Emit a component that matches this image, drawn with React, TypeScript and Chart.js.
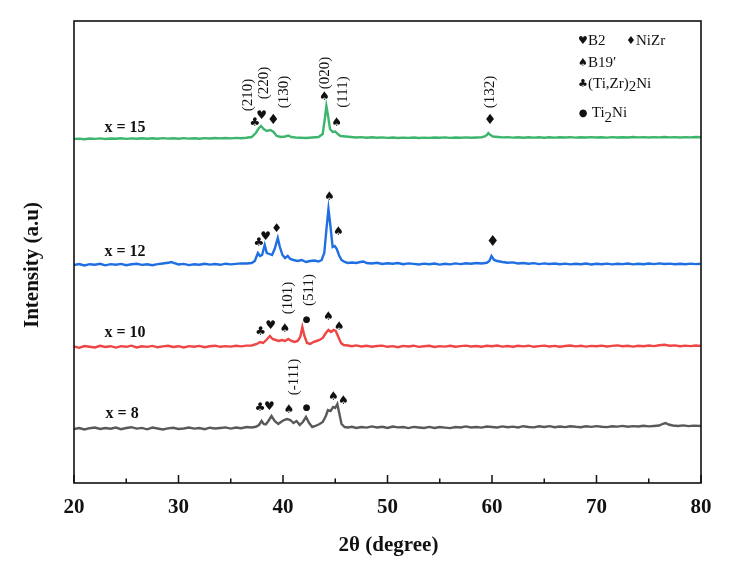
import React, { useEffect, useRef } from "react";
import { Chart, registerables } from "chart.js";

Chart.register(...registerables);

// 2θ (degree) ticks
const xTicks = [20, 30, 40, 50, 60, 70, 80];

// series names (composition x) and vertical stacking offsets (a.u.)
const seriesNames = ["x = 8", "x = 10", "x = 12", "x = 15"];
const seriesOffsets = [54, 136, 218, 344];
const seriesColors = ["#595959", "#ef4545", "#1f6fe3", "#3db56c"];

// [2θ, relative intensity]
const patternX8: number[][] = [
  [20, 0], [20.5, 1], [21, -0.5], [21.5, 0.8], [22, 1.5], [22.5, 0], [23, 1], [23.5, 0.3], [24, 1.4], [24.5, -0.2],
  [25, 1], [25.5, 1.8], [26, 0.4], [26.5, 1.1], [27, -0.3], [27.5, 1.5], [28, 0.5], [28.5, -0.5], [29, 0.6], [29.5, 1.2],
  [30, 0], [30.5, 0.5], [31, 1.5], [31.5, 0.4], [32, 1], [32.5, -0.2], [33, 1.3], [33.5, 0.5], [34, 1], [34.5, 1.6],
  [35, 0.4], [35.5, 1.5], [36, 0.8], [36.5, 2], [37, 1.5], [37.4, 2.2], [37.7, 4], [37.95, 8], [38.15, 5], [38.35, 4.5],
  [38.6, 8], [38.9, 13], [39.2, 8], [39.55, 5], [39.8, 7], [40.1, 9], [40.4, 10], [40.7, 9], [41.0, 6], [41.3, 8],
  [41.6, 4], [41.9, 7], [42.2, 12], [42.5, 6], [42.8, 2], [43.1, 3], [43.5, 5], [43.8, 7], [44.1, 13], [44.3, 19],
  [44.55, 18], [44.8, 22], [45.0, 21], [45.2, 25], [45.4, 15], [45.6, 5], [45.9, 2], [46.2, 1.5], [46.6, 2.2], [47, 1],
  [47.5, 2], [48, 1.4], [48.5, 2.6], [49, 1.5], [49.5, 2.2], [50, 1], [50.5, 2.5], [51, 1.6], [51.5, 2], [52, 0.9],
  [52.5, 2.1], [53, 1.5], [53.5, 1], [54, 2.1], [54.5, 1], [55, 2], [55.5, 1.4], [56, 0.9], [56.5, 2], [57, 1.5],
  [57.5, 2.6], [58, 1.5], [58.5, 2], [59, 1.4], [59.5, 2.5], [60, 2], [60.5, 1.5], [61, 2.6], [61.5, 1.8], [62, 2.4],
  [62.5, 1.5], [63, 2.8], [63.5, 2], [64, 1.6], [64.5, 2.7], [65, 2], [65.5, 2.9], [66, 1.8], [66.5, 2.5], [67, 1.9],
  [67.5, 2.8], [68, 2.2], [68.5, 1.8], [69, 2.7], [69.5, 2.1], [70, 2.9], [70.5, 2.3], [71, 1.9], [71.5, 2.8], [72, 2.4],
  [72.5, 3.1], [73, 2.2], [73.5, 2.9], [74, 2.5], [74.5, 3.2], [75, 2.6], [75.5, 3], [76, 3.5], [76.3, 5], [76.6, 6],
  [76.9, 4.5], [77.3, 3.5], [77.8, 3], [78.3, 3.6], [78.8, 2.9], [79.3, 3.4], [80, 3],
];

const patternX10: number[][] = [
  [20, 0.5], [20.5, -0.8], [21, 1], [21.5, 0.2], [22, -0.5], [22.5, 1.2], [23, 0], [23.5, 0.8], [24, -0.6], [24.5, 0.9],
  [25, 0.2], [25.5, 1.3], [26, -0.4], [26.5, 0.7], [27, 0.1], [27.5, 1.1], [28, -0.3], [28.5, 0.6], [29, 1.2], [29.5, 0],
  [30, 0.8], [30.5, -0.5], [31, 0.9], [31.5, 0.3], [32, 1.1], [32.5, -0.2], [33, 0.7], [33.5, 1.3], [34, 0.2], [34.5, 0.9],
  [35, 0.4], [35.5, 1.2], [36, 0.6], [36.5, 1.4], [37, 1.5], [37.5, 3], [37.8, 5], [38.1, 4], [38.4, 7], [38.75, 11],
  [39.0, 8], [39.3, 7], [39.6, 6], [39.9, 7], [40.2, 6], [40.5, 8], [40.8, 6], [41.1, 5], [41.4, 6], [41.65, 10],
  [41.85, 20], [42.05, 11], [42.3, 4], [42.6, 3], [42.9, 5], [43.2, 6], [43.5, 7], [43.8, 9], [44.1, 14], [44.35, 17],
  [44.6, 15], [44.85, 17], [45.05, 16], [45.3, 10], [45.55, 4], [45.8, 2], [46.2, 1.5], [46.6, 0.8], [47, 1.6], [47.5, 0.5],
  [48, 1.2], [48.5, 0.3], [49, 1], [49.5, 1.4], [50, 0.2], [50.5, 0.9], [51, -0.2], [51.5, 1.1], [52, 0.5], [52.5, 1.3],
  [53, 0.1], [53.5, 0.8], [54, 1.2], [54.5, 0], [55, 0.9], [55.5, 0.4], [56, 1.2], [56.5, 0.2], [57, 0.9], [57.5, 1.4],
  [58, 0.5], [58.5, 1], [59, 0.3], [59.5, 1.2], [60, 0.8], [60.5, 1.5], [61, 0.4], [61.5, 1], [62, 0.2], [62.5, 1.2],
  [63, 0.6], [63.5, 1.3], [64, 0.2], [64.5, 0.9], [65, 1.4], [65.5, 0.5], [66, 1.1], [66.5, 0.3], [67, 1], [67.5, 1.5],
  [68, 0.6], [68.5, 1.2], [69, 0.4], [69.5, 1.1], [70, 0.7], [70.5, 1.4], [71, 0.5], [71.5, 1.1], [72, 1.6], [72.5, 0.7],
  [73, 1.2], [73.5, 0.4], [74, 1.3], [74.5, 0.8], [75, 1.5], [75.5, 0.9], [76, 1.8], [76.5, 2.2], [77, 1.2], [77.5, 1.6],
  [78, 0.8], [78.5, 1.4], [79, 0.9], [79.5, 1.5], [80, 1],
];

const patternX12: number[][] = [
  [20, 0], [20.5, 1], [21, -0.5], [21.5, 0.8], [22, 0.2], [22.5, 1.2], [23, -0.3], [23.5, 0.9], [24, 0.3], [24.5, 1.1],
  [25, -0.2], [25.5, 0.7], [26, 1.2], [26.5, 0.1], [27, 0.8], [27.5, -0.2], [28, 0.9], [28.5, 1.5], [29, 2.2], [29.3, 3],
  [29.6, 1.8], [30, 0.5], [30.5, 1.1], [31, -0.1], [31.5, 0.8], [32, 0.3], [32.5, 1.2], [33, 0.4], [33.5, 1], [34, 0.2],
  [34.5, 1.3], [35, 0.6], [35.5, 1.1], [36, 1.6], [36.5, 1.5], [37, 2], [37.3, 4], [37.6, 12], [37.8, 9], [38.0, 10],
  [38.25, 20], [38.45, 12], [38.7, 11], [38.95, 10], [39.2, 16], [39.5, 27], [39.7, 18], [39.95, 10], [40.2, 7], [40.45, 9],
  [40.7, 6], [41, 5], [41.4, 4], [41.8, 5], [42.2, 3], [42.6, 4], [43, 4.5], [43.4, 3.5], [43.7, 5], [43.95, 12],
  [44.15, 35], [44.35, 56], [44.55, 38], [44.75, 18], [44.95, 19], [45.15, 16], [45.35, 10], [45.6, 5], [45.9, 3], [46.2, 2],
  [46.6, 2.5], [47, 2], [47.4, 3], [47.7, 3.5], [48, 2], [48.5, 1.5], [49, 2.2], [49.5, 1], [50, 1.8], [50.5, 1.2],
  [51, 2], [51.5, 0.8], [52, 1.6], [52.5, 1.1], [53, 0.5], [53.5, 1.4], [54, 0.7], [54.5, 1.5], [55, 0.4], [55.5, 1.2],
  [56, 0.6], [56.5, 1.6], [57, 0.9], [57.5, 1.8], [58, 1.2], [58.5, 2], [59, 1.5], [59.5, 2.2], [59.75, 4], [59.95, 9],
  [60.2, 5], [60.5, 4], [61, 3], [61.5, 2.2], [62, 2.6], [62.5, 1.5], [63, 2], [63.5, 1.2], [64, 1.9], [64.5, 0.9],
  [65, 1.6], [65.5, 1], [66, 1.5], [66.5, 0.7], [67, 1.4], [67.5, 0.6], [68, 1.3], [68.5, 0.8], [69, 1.5], [69.5, 0.5],
  [70, 1.2], [70.5, 0.7], [71, 1.4], [71.5, 0.6], [72, 1.2], [72.5, 0.9], [73, 1.5], [73.5, 0.6], [74, 1.3], [74.5, 0.8],
  [75, 1.5], [75.5, 0.9], [76, 1.6], [76.5, 1], [77, 1.4], [77.5, 0.7], [78, 1.3], [78.5, 0.8], [79, 1.4], [79.5, 0.9],
  [80, 1.2],
];

const patternX15: number[][] = [
  [20, 0], [20.5, 0.4], [21, -0.2], [21.5, 0.5], [22, 0.1], [22.5, 0.6], [23, 0], [23.5, 0.5], [24, 0.2], [24.5, 0.7],
  [25, 0.1], [25.5, 0.6], [26, 0.3], [26.5, 0.8], [27, 0.2], [27.5, 0.7], [28, 0.3], [28.5, 0.9], [29, 0.4], [29.5, 0.8],
  [30, 0.3], [30.5, 0.9], [31, 0.4], [31.5, 0.8], [32, 0.3], [32.5, 0.9], [33, 0.5], [33.5, 1], [34, 0.6], [34.5, 1],
  [35, 0.6], [35.5, 1.1], [36, 0.8], [36.5, 1.2], [37, 2], [37.4, 6], [37.7, 11], [37.9, 13], [38.15, 10], [38.45, 8],
  [38.8, 9], [39.1, 7], [39.4, 3], [39.8, 2], [40.2, 2.5], [40.5, 3.5], [40.8, 2], [41.2, 1.5], [41.7, 1.3], [42.2, 1],
  [42.8, 1.5], [43.4, 2], [43.8, 5], [44, 20], [44.15, 33], [44.3, 24], [44.5, 10], [44.75, 7], [45, 7.5], [45.25, 5],
  [45.5, 3], [46, 2.5], [46.5, 2], [47, 1.5], [47.5, 1.9], [48, 1.3], [48.5, 1.7], [49, 1.2], [49.5, 1.6], [50, 1.1],
  [50.5, 1.5], [51, 1], [51.5, 1.4], [52, 1.1], [52.5, 1.5], [53, 1], [53.5, 1.4], [54, 1.1], [54.5, 1.5], [55, 1.2],
  [55.5, 1.6], [56, 1.1], [56.5, 1.5], [57, 1.2], [57.5, 1.6], [58, 1.3], [58.5, 1.5], [59, 1.8], [59.3, 2.5], [59.5, 4],
  [59.65, 6], [59.85, 4], [60.1, 2.5], [60.6, 2], [61, 1.6], [61.5, 1.9], [62, 1.4], [62.5, 1.8], [63, 1.3], [63.5, 1.7],
  [64, 1.4], [64.5, 1.8], [65, 1.3], [65.5, 1.7], [66, 1.4], [66.5, 1.8], [67, 1.5], [67.5, 1.9], [68, 1.4], [68.5, 1.8],
  [69, 1.5], [69.5, 1.9], [70, 1.5], [70.5, 1.8], [71, 1.4], [71.5, 1.9], [72, 1.5], [72.5, 1.8], [73, 1.5], [73.5, 2],
  [74, 1.6], [74.5, 1.9], [75, 1.5], [75.5, 1.9], [76, 1.6], [76.5, 2], [77, 1.6], [77.5, 1.9], [78, 1.5], [78.5, 1.9],
  [79, 1.6], [79.5, 2], [80, 1.7],
];

const patterns = [patternX8, patternX10, patternX12, patternX15];

// rotated Miller-index labels: [text, 2θ, intensity]
const peakLabels: [string, number, number][] = [
  ["(210)", 36.53, 388],
  ["(220)", 38.12, 400],
  ["(130)", 40.03, 391],
  ["(020)", 43.95, 410],
  ["(111)", 45.62, 391],
  ["(132)", 59.74, 391],
  ["(101)", 40.35, 185],
  ["(511)", 42.42, 193],
  ["(-111)", 40.96, 106],
];

// phase markers: [symbol, 2θ, intensity, size]
const phaseMarks: [string, number, number, number][] = [
  ["♣", 37.32, 360, 12], ["♥", 37.96, 367, 12], ["♦", 39.07, 363, 14], ["♠", 43.95, 386, 12], ["♠", 45.14, 360, 12], ["♦", 59.81, 363, 14],
  ["♣", 37.7, 240, 12], ["♥", 38.34, 246, 12], ["♦", 39.4, 254, 12], ["♠", 44.43, 286, 12], ["♠", 45.29, 251, 12], ["♦", 60.06, 241, 15],
  ["♣", 37.87, 151, 12], ["♥", 38.82, 157, 12], ["♠", 40.19, 154, 12], ["●", 42.27, 163, 9], ["♠", 44.34, 166, 12], ["♠", 45.36, 156, 12],
  ["♣", 37.8, 75, 12], ["♥", 38.69, 76, 12], ["♠", 40.57, 73, 12], ["●", 42.27, 75, 9], ["♠", 44.81, 86, 12], ["♠", 45.77, 82, 12],
];

// series label anchor: [2θ, intensity]
const nameAnchors: [number, number][] = [[24.6, 69], [24.88, 150], [24.88, 231], [24.88, 355]];

// phase legend: [symbol, text before subscript, subscript, text after]
const legendItems: [string, string, string, string][] = [
  ["♥", "B2", "", ""],
  ["♦", "NiZr", "", ""],
  ["♠", "B19′", "", ""],
  ["♣", "(Ti,Zr)", "2", "Ni"],
  ["●", " Ti", "2", "Ni"],
];

const SERIF = "'Liberation Serif', 'Times New Roman', serif";
const SYM = "'DejaVu Sans', sans-serif";

const decorPlugin = {
  id: "xrdDecor",
  afterDatasetsDraw(chart: any) {
    const { ctx, chartArea: a, scales } = chart;
    const xs = scales.x;
    const ys = scales.y;
    ctx.save();

    // frame
    ctx.strokeStyle = "#111";
    ctx.lineWidth = 1.6;
    ctx.strokeRect(a.left, a.top, a.right - a.left, a.bottom - a.top);

    // inward ticks (major + minor)
    const majors = xs.ticks.map((t: any) => t.value);
    ctx.lineWidth = 1.5;
    ctx.beginPath();
    majors.forEach((v: number, i: number) => {
      const px = xs.getPixelForValue(v);
      ctx.moveTo(px, a.bottom);
      ctx.lineTo(px, a.bottom - 8);
      if (i < majors.length - 1) {
        const mx = xs.getPixelForValue((v + majors[i + 1]) / 2);
        ctx.moveTo(mx, a.bottom);
        ctx.lineTo(mx, a.bottom - 4.5);
      }
    });
    ctx.stroke();

    ctx.fillStyle = "#111";
    ctx.textAlign = "center";
    ctx.textBaseline = "middle";

    // series names
    ctx.font = `bold 16px ${SERIF}`;
    seriesNames.forEach((n, i) => {
      const [d, v] = nameAnchors[i];
      ctx.fillText(n, xs.getPixelForValue(d), ys.getPixelForValue(v));
    });

    // Miller index labels (rotated)
    ctx.font = `15px ${SERIF}`;
    peakLabels.forEach(([t, d, v]) => {
      ctx.save();
      ctx.translate(xs.getPixelForValue(d), ys.getPixelForValue(v));
      ctx.rotate(-Math.PI / 2);
      ctx.fillText(t, 0, 1);
      ctx.restore();
    });

    // phase symbols
    phaseMarks.forEach(([s, d, v, size]) => {
      ctx.font = `${size}px ${SYM}`;
      ctx.fillText(s, xs.getPixelForValue(d), ys.getPixelForValue(v));
    });

    // legend (top-right)
    const lx = a.right - 118;
    const rows = [a.top + 20, a.top + 20, a.top + 42, a.top + 63, a.top + 92];
    const cols = [lx, lx + 48, lx, lx, lx];
    legendItems.forEach(([s, t1, sub, t2], i) => {
      const cx = cols[i];
      const cy = rows[i];
      ctx.textAlign = "center";
      ctx.font = `${s === "●" ? 10 : 11}px ${SYM}`;
      ctx.fillText(s, cx, cy);
      ctx.textAlign = "left";
      ctx.font = `15px ${SERIF}`;
      let px = cx + 5;
      ctx.fillText(t1, px, cy);
      px += ctx.measureText(t1).width;
      if (sub) {
        ctx.fillText(sub, px, cy + (s === "●" ? 5 : 3));
        px += ctx.measureText(sub).width;
        ctx.fillText(t2, px, cy);
      }
    });

    // axis titles
    ctx.textAlign = "center";
    ctx.font = `bold 21px ${SERIF}`;
    ctx.fillText("2θ (degree)", (a.left + a.right) / 2 + 1, 546);
    ctx.save();
    ctx.translate(33, (a.top + a.bottom) / 2 + 13);
    ctx.rotate(-Math.PI / 2);
    ctx.fillText("Intensity (a.u)", 0, 0);
    ctx.restore();

    ctx.restore();
  },
};

export default function App() {
  const ref = useRef<HTMLCanvasElement | null>(null);

  useEffect(() => {
    if (!ref.current) return;
    const datasets = patterns.map((p, i) => ({
      label: seriesNames[i],
      data: p.map(([d, v]) => ({ x: d, y: v + seriesOffsets[i] })),
      borderColor: seriesColors[i],
      backgroundColor: seriesColors[i],
      borderWidth: 2.4,
      pointRadius: 0,
      tension: 0,
      fill: false,
    }));
    const chart = new Chart(ref.current, {
      type: "line",
      data: { datasets },
      plugins: [decorPlugin],
      options: {
        animation: false,
        responsive: true,
        maintainAspectRatio: false,
        layout: { padding: { top: 21, right: 31, left: 0, bottom: 0 } },
        plugins: { legend: { display: false }, tooltip: { enabled: false } },
        scales: {
          x: {
            type: "linear",
            min: xTicks[0],
            max: xTicks[xTicks.length - 1],
            grid: { display: false, drawTicks: false },
            border: { display: false },
            ticks: {
              stepSize: 10,
              padding: 12,
              color: "#111",
              font: { family: SERIF, size: 21, weight: "bold" },
            },
            afterFit: (s: any) => {
              s.height = 85;
            },
          },
          y: {
            type: "linear",
            min: 0,
            max: 462,
            grid: { display: false, drawTicks: false },
            border: { display: false },
            ticks: { display: false },
            afterFit: (s: any) => {
              s.width = 74;
            },
          },
        },
      },
    });
    return () => chart.destroy();
  }, []);

  return (
    <div style={{ position: "fixed", left: 0, top: 0, width: 732, height: 568, background: "#fff" }}>
      <canvas ref={ref} />
    </div>
  );
}
